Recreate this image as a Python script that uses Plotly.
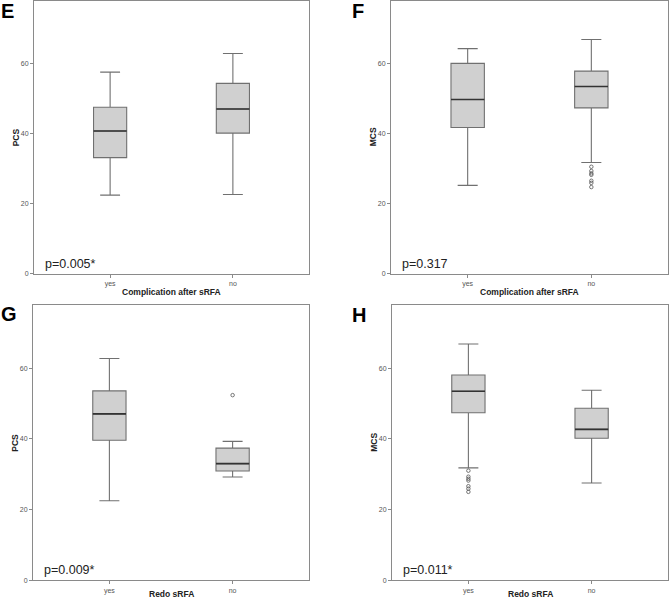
import plotly.graph_objects as go

W, H = 669, 604

categories = ["yes", "no"]
y_ticks = [0, 20, 40, 60]

# Panel E: PCS by complication after sRFA
E_lower = [22.4, 22.6]
E_q1 = [33.1, 40.1]
E_med = [40.7, 47.0]
E_q3 = [47.5, 54.3]
E_upper = [57.5, 62.8]

# Panel F: MCS by complication after sRFA
F_lower = [25.2, 31.7]
F_q1 = [41.7, 47.3]
F_med = [49.7, 53.4]
F_q3 = [60.0, 57.8]
F_upper = [64.2, 66.8]
F_outliers_no = [30.5, 29.3, 28.6, 28.2, 26.5, 25.9, 24.7]

# Panel G: PCS by redo sRFA
G_lower = [22.5, 29.2]
G_q1 = [39.6, 30.9]
G_med = [47.1, 33.0]
G_q3 = [53.6, 37.4]
G_upper = [62.8, 39.3]
G_outliers_no = [52.4]

# Panel H: MCS by redo sRFA
H_lower = [31.8, 27.5]
H_q1 = [47.4, 40.2]
H_med = [53.5, 42.7]
H_q3 = [58.1, 48.7]
H_upper = [66.9, 53.8]
H_outliers_yes = [31.0, 29.3, 28.7, 28.2, 26.6, 25.9, 25.0]

FONT = "Arial, Liberation Sans, sans-serif"

panels = [
    dict(key="", letter="E", ytitle="PCS", xtitle="Complication after sRFA", p="p=0.005*",
         px=(34, 309), py=(1, 275), lx=0, ly=11, xty=293,
         stats=(E_lower, E_q1, E_med, E_q3, E_upper), out=None),
    dict(key="2", letter="F", ytitle="MCS", xtitle="Complication after sRFA", p="p=0.317",
         px=(391, 668), py=(1, 275), lx=351, ly=11, xty=293,
         stats=(F_lower, F_q1, F_med, F_q3, F_upper), out=(1, F_outliers_no)),
    dict(key="3", letter="G", ytitle="PCS", xtitle="Redo sRFA", p="p=0.009*",
         px=(33, 309), py=(307, 583), lx=0, ly=316, xty=597,
         stats=(G_lower, G_q1, G_med, G_q3, G_upper), out=(1, G_outliers_no)),
    dict(key="4", letter="H", ytitle="MCS", xtitle="Redo sRFA", p="p=0.011*",
         px=(392, 668), py=(307, 583), lx=351, ly=317, xty=597,
         stats=(H_lower, H_q1, H_med, H_q3, H_upper), out=(0, H_outliers_yes)),
]

fig = go.Figure()
annotations = []
xpos = list(range(len(categories)))
BOXW = 0.27

for p in panels:
    xa = "x" + p["key"]
    ya = "y" + p["key"]
    lo, q1, med, q3, up = p["stats"]
    fig.add_trace(go.Box(
        x=xpos, q1=q1, median=med, q3=q3, lowerfence=lo, upperfence=up,
        xaxis=xa, yaxis=ya, width=BOXW, whiskerwidth=0.6,
        fillcolor="#d0d0d0", line=dict(color="#707070", width=1.1),
        boxpoints=False, showlegend=False, hoverinfo="skip"))
    # darker median line
    fig.add_trace(go.Box(
        x=xpos, q1=med, median=med, q3=med, lowerfence=med, upperfence=med,
        xaxis=xa, yaxis=ya, width=BOXW, whiskerwidth=0,
        fillcolor="rgba(0,0,0,0)", line=dict(color="#333333", width=1.6),
        boxpoints=False, showlegend=False, hoverinfo="skip"))
    if p["out"] is not None:
        ci, vals = p["out"]
        fig.add_trace(go.Scatter(
            x=[ci] * len(vals), y=vals, mode="markers", xaxis=xa, yaxis=ya,
            marker=dict(symbol="circle-open", size=3.5, color="#555555", line=dict(width=0.8)),
            showlegend=False, hoverinfo="skip"))

    x0, x1 = p["px"]
    y0, y1 = p["py"]
    xd = [x0 / W, x1 / W]
    yd = [1 - y1 / H, 1 - y0 / H]
    axname_x = "xaxis" + p["key"]
    axname_y = "yaxis" + p["key"]
    fig.layout[axname_x] = dict(
        domain=xd, range=[-0.62, 1.62], tickvals=xpos, ticktext=categories,
        showline=True, mirror=True, linecolor="#8a8a8a", linewidth=1,
        showgrid=False, zeroline=False, ticks="outside", ticklen=3, tickcolor="#8a8a8a",
        tickfont=dict(size=7, color="#555555", family=FONT), anchor=ya)
    fig.layout[axname_y] = dict(
        domain=yd, range=[0, 77.8], tickvals=y_ticks,
        showline=True, mirror=True, linecolor="#8a8a8a", linewidth=1,
        showgrid=False, zeroline=False, ticks="outside", ticklen=3, tickcolor="#8a8a8a",
        tickfont=dict(size=7, color="#555555", family=FONT), anchor=xa)

    # panel letter
    annotations.append(dict(text="<b>%s</b>" % p["letter"], xref="paper", yref="paper",
                            x=p["lx"] / W, y=1 - p["ly"] / H, xanchor="left", yanchor="middle",
                            showarrow=False, borderpad=0,
                            font=dict(size=20, family=FONT, color="black")))
    # y title
    annotations.append(dict(text="<b>%s</b>" % p["ytitle"], xref="paper", yref="paper",
                            x=(x0 - 18) / W, y=1 - ((y0 + y1) / 2) / H, textangle=-90,
                            xanchor="center", yanchor="middle", showarrow=False,
                            font=dict(size=8.5, family=FONT, color="#222222")))
    # x title
    annotations.append(dict(text="<b>%s</b>" % p["xtitle"], xref="paper", yref="paper",
                            x=((x0 + x1) / 2) / W, y=1 - p["xty"] / H,
                            xanchor="center", yanchor="middle", showarrow=False, borderpad=0,
                            font=dict(size=8.5, family=FONT, color="#222222")))
    # p-value
    annotations.append(dict(text=p["p"], xref="paper", yref="paper",
                            x=(x0 + 10) / W, y=1 - (y1 - 10) / H,
                            xanchor="left", yanchor="middle", showarrow=False, borderpad=0,
                            font=dict(size=12.5, family=FONT, color="#222222")))

fig.update_layout(
    width=W, height=H, margin=dict(l=0, r=0, t=0, b=0),
    paper_bgcolor="white", plot_bgcolor="white",
    annotations=annotations, boxmode="overlay", showlegend=False,
    font=dict(family=FONT))

fig.write_html("out.html", config={"displayModeBar": False, "staticPlot": True},
               post_script="document.body.style.margin='0';document.body.style.padding='0';")
